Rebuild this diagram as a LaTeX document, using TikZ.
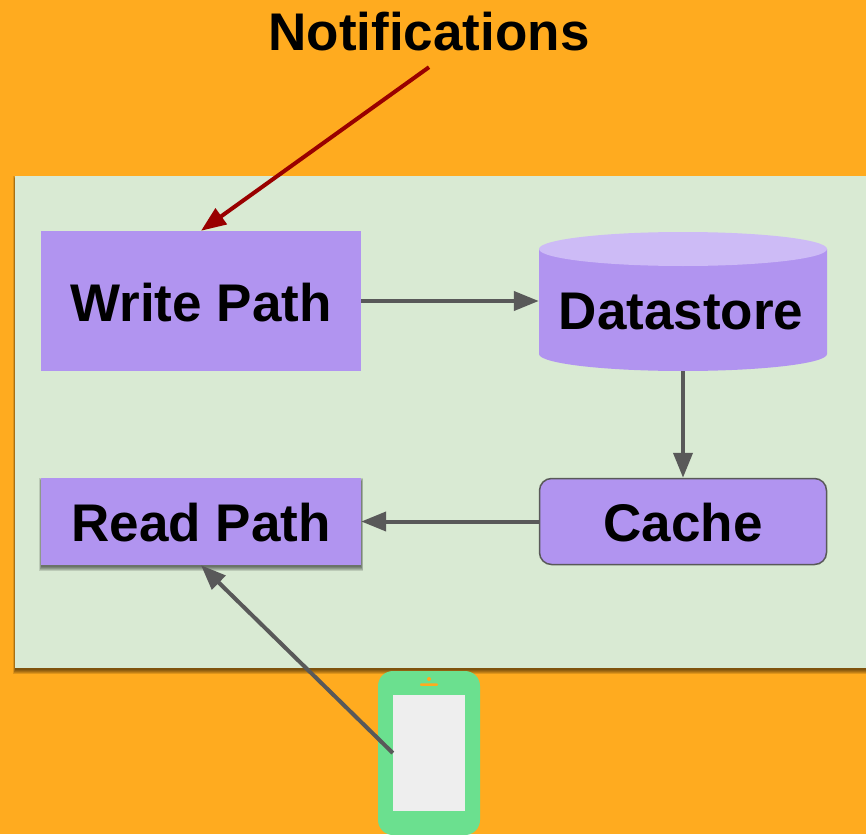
\documentclass[tikz,border=0pt]{standalone}
\usepackage{fontspec}
\setmainfont{Liberation Sans}
\usepackage{tikz}
\usetikzlibrary{positioning,arrows.meta}
\definecolor{backdrop}{RGB}{255,171,31}
\definecolor{panel}{RGB}{217,234,211}
\definecolor{block}{RGB}{177,148,240}
\definecolor{blocktop}{RGB}{205,187,246}
\definecolor{phone}{RGB}{107,224,143}
\definecolor{screen}{RGB}{238,238,238}
\definecolor{link}{RGB}{89,89,89}
\definecolor{alert}{RGB}{153,0,0}
\tikzset{
    blocktext/.style={font=\fontsize{53}{60}\selectfont\bfseries,text=black,inner sep=0pt,text height=41pt},
    pathbox/.style={blocktext,fill=block,minimum width=320pt},
    flow/.style={-{Triangle[length=25pt,width=19pt]},link,line width=4pt},
}
\newcommand{\softshadow}[4]{
    \foreach \d in {-1,0,1,2,3} {
        \fill[black,opacity=0.13] (#1-\d/2-0.5,#2-\d+3) rectangle (#3+\d/2+0.5,#4+\d+3);
    }
}
\begin{document}
\begin{tikzpicture}[x=1pt,y=-1pt]
    % Fond
    \clip (0,0) rectangle (866,834);
    \fill[backdrop] (0,0) rectangle (866,834);

    % Panneau
    \softshadow{15}{176}{880}{668}
    \node[fill=panel,minimum width=851pt,minimum height=492pt,inner sep=0pt] (backend) at (440.5,422) {};

    % Blocs
    \node[pathbox,minimum height=140pt] (writepath) at (201,301) {Write Path};
    \softshadow{41}{478}{361}{565}
    \node[pathbox,minimum height=87pt] (readpath) at (201,521.5) {Read Path};
    \node[blocktext,fill=block,draw=link,line width=1.5pt,rounded corners=12pt,
        minimum width=287pt,minimum height=86pt] (cache) at (683,521.5) {Cache};

    % Cylindre
    \fill[block] (539,249) -- (539,354) arc[start angle=180,end angle=360,x radius=144pt,y radius=17pt] -- (827,249) -- cycle;
    \fill[blocktop] (683,249) ellipse[x radius=144pt,y radius=17pt];
    \node[minimum width=288pt,minimum height=140pt,inner sep=0pt] (datastore) at (683,301) {};
    \node[blocktext,text height=38pt] (datastorelabel) at (681,310.5) {Datastore};

    % Titre
    \node[font=\fontsize{53}{60}\selectfont\bfseries,inner sep=0pt,minimum height=70pt] (notifications) at (429,32) {Notifications};

    % Telephone
    \node[fill=phone,rounded corners=15pt,minimum width=102pt,minimum height=164pt,inner sep=0pt] (mobile) at (429,753) {};
    \node[fill=screen,minimum width=72pt,minimum height=116pt,inner sep=0pt] (mobilescreen) at (429,753) {};
    \node[fill=backdrop,circle,minimum size=4pt,inner sep=0pt] (mobilecam) at (429,679) {};
    \node[fill=backdrop,rounded corners=1pt,minimum width=18pt,minimum height=2.5pt,inner sep=0pt] (mobilespeaker) at (429,684.5) {};

    % Liens
    \draw[flow] (writepath.east) -- (datastore.west);
    \draw[flow] (datastore.south) -- (cache.north);
    \draw[flow] (cache.west) -- (readpath.east);
    \draw[flow] (mobilescreen.west) -- (readpath.south);
    \draw[-{Triangle[length=25pt,width=19pt]},alert,line width=4pt] (notifications.south) -- (writepath.north);
\end{tikzpicture}
\end{document}
